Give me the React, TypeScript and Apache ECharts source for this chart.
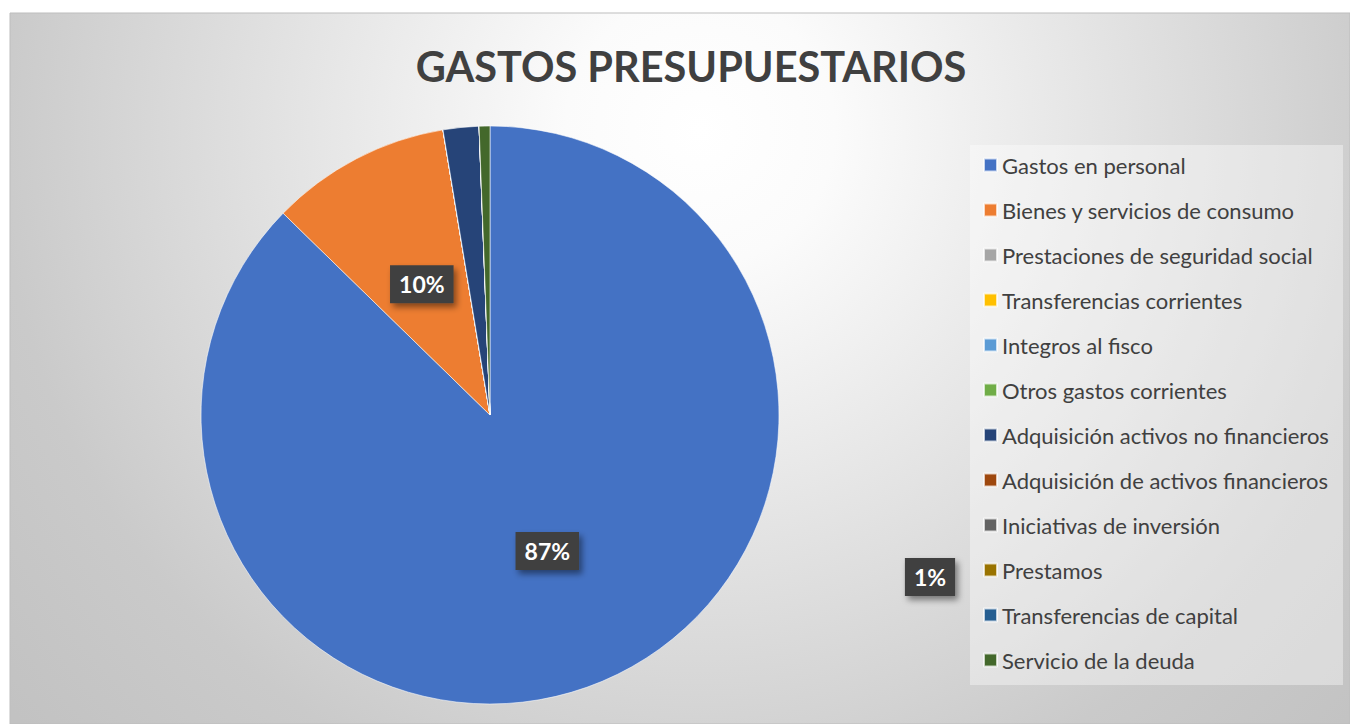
import React, { useEffect, useRef } from "react";
import * as echarts from "echarts";

const categories = [
  "Gastos en personal",
  "Bienes y servicios de consumo",
  "Prestaciones de seguridad social",
  "Transferencias corrientes",
  "Integros al fisco",
  "Otros gastos corrientes",
  "Adquisición activos no financieros",
  "Adquisición de activos financieros",
  "Iniciativas de inversión",
  "Prestamos",
  "Transferencias de capital",
  "Servicio de la deuda",
];
const values = [87.3, 10.1, 0, 0, 0, 0, 2.0, 0, 0, 0, 0, 0.6];
const labelShown = [true, true, false, false, false, false, false, false, false, false, false, true];
const colors = [
  "#4472C4", "#ED7D31", "#A5A5A5", "#FFC000", "#5B9BD5", "#70AD47",
  "#264478", "#9E480E", "#636363", "#997300", "#255E91", "#43682B",
];
const title = "GASTOS PRESUPUESTARIOS";

export default function App() {
  const ref = useRef<HTMLDivElement>(null);
  useEffect(() => {
    if (!ref.current) return;
    const chart = echarts.init(ref.current, null, { renderer: "svg" });
    chart.setOption({
      animation: false,
      color: colors,
      title: {
        text: title,
        left: 686,
        top: 40,
        textAlign: "center",
        textStyle: {
          fontFamily: "Lato",
          fontWeight: "bold",
          fontSize: 41.5,
          color: "#404040",
        },
      },
      graphic: [
        {
          type: "rect",
          z: -10,
          silent: true,
          shape: { x: 10, y: 13, width: 1340, height: 711 },
          style: {
            fill: {
              type: "radial",
              x: 700,
              y: 130,
              r: 900,
              global: true,
              colorStops: [
                { offset: 0, color: "#ffffff" },
                { offset: 0.15, color: "#fbfbfb" },
                { offset: 0.78, color: "#cacaca" },
                { offset: 1, color: "#c2c2c2" },
              ],
            },
            stroke: "#bdbdbd",
            lineWidth: 1,
          },
        },
        {
          type: "rect",
          z: -5,
          silent: true,
          shape: { x: 970, y: 145, width: 373, height: 540 },
          style: { fill: "rgba(255,255,255,0.38)" },
        },
      ],
      legend: {
        orient: "vertical",
        left: 983,
        top: 153,
        padding: 0,
        itemWidth: 13,
        itemHeight: 13,
        itemGap: 21,
        icon: "rect",
        data: categories,
        textStyle: {
          fontFamily: "Lato",
          fontSize: 22,
          lineHeight: 24,
          color: "#404040",
        },
      },
      series: [
        {
          type: "pie",
          center: [490, 415],
          radius: 289,
          startAngle: 90,
          clockwise: true,
          stillShowZeroSum: true,
          itemStyle: { borderColor: "rgba(255,255,255,0.7)", borderWidth: 0.8 },
          label: {
            position: "inside",
            formatter: (p: any) => Math.round(p.percent) + "%",
            fontFamily: "Lato",
            fontWeight: "bold",
            fontSize: 23,
            color: "#ffffff",
            backgroundColor: "#404040",
            padding: [8, 9, 7, 9],
            shadowBlur: 6,
            shadowOffsetX: 3,
            shadowOffsetY: 4,
            shadowColor: "rgba(0,0,0,0.45)",
          },
          labelLine: { show: false },
          labelLayout: (params: any) => {
            if (params.dataIndex === 11) {
              return { x: 930, y: 577, align: "center", verticalAlign: "middle" };
            }
            return {};
          },
          data: categories.map((name, i) => ({
            name,
            value: values[i],
            label: { show: labelShown[i] },
          })),
        },
      ],
    });
    return () => chart.dispose();
  }, []);
  return (
    <div
      ref={ref}
      style={{ position: "absolute", left: 0, top: 0, width: 1350, height: 724 }}
    />
  );
}
